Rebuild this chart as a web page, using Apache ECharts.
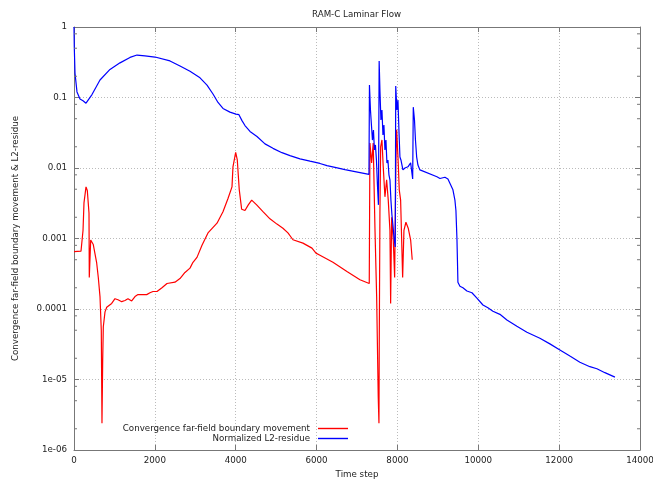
<!DOCTYPE html>
<html>
<head>
<meta charset="utf-8">
<script src="https://cdn.jsdelivr.net/npm/echarts@6/dist/echarts.min.js"></script>
<style>html,body{margin:0;padding:0;background:#fff}#c{width:653px;height:479px}</style>
</head>
<body>
<div id="c"></div>
<script>
// ---- data ----
const titleText = 'RAM-C Laminar Flow';
const xAxisName = 'Time step';
const yAxisName = 'Convergence far-field boundary movement & L2-residue';
const seriesNames = ['Convergence far-field boundary movement', 'Normalized L2-residue'];

const xMin = 0, xMax = 14000, xInterval = 2000;
const yMin = 1e-6, yMax = 1;
const yTickLabels = { '-6': '1e-06', '-5': '1e-05', '-4': '0.0001', '-3': '0.001', '-2': '0.01', '-1': '0.1', '0': '1' };
const yMinorTicks = [2e-6,5e-6,8e-6,2e-5,5e-5,8e-5,2e-4,5e-4,8e-4,2e-3,5e-3,8e-3,2e-2,5e-2,8e-2,0.2,0.5,0.8];

const residueX = [0,7,25,74,148,223,297,346,445,544,643,890,1138,1385,1558,1756,2003,2374,2622,2869,3117,3290,3438,3562,3685,3858,4006,4080,4155,4229,4353,4526,4724,4922,5144,5342,5590,5837,6084,6257,6455,6702,6950,7296,
7308,7333,7357,7382,7407,7431,7456,7481,7506,7530,7548,7567,7592,7617,7642,7666,7691,7716,7740,7765,7790,7815,7839,7864,7889,7914,7946,7958,7988,8013,8037,8062,8087,8136,8186,8260,8327,8377,8392,8422,8446,8476,8507,8557,
8977,9052,9175,9249,9373,9422,9447,9472,9484,9496,9546,9620,9719,9843,9966,10115,10238,10362,10535,10708,10955,11203,11524,11771,12019,12266,12513,12761,12934,13132,13380];
const residueY = [1.0,0.52,0.22,0.12,0.095,0.09,0.083,0.086,0.11,0.14,0.177,0.25,0.31,0.37,0.40,0.39,0.375,0.33,0.28,0.235,0.19,0.15,0.112,0.085,0.07,0.062,0.058,0.057,0.047,0.04,0.033,0.028,0.022,0.019,0.0165,0.015,0.0135,0.0125,0.0116,0.0108,0.0102,0.0095,0.0089,0.0081,
0.150,0.0665,0.0408,0.0249,0.0346,0.018,0.0212,0.013,0.0057,0.003,0.33,0.128,0.048,0.0665,0.0294,0.0408,0.018,0.0249,0.0118,0.013,0.008,0.0068,0.0035,0.00215,0.00155,0.00105,0.00076,0.146,0.0665,0.092,0.0346,0.0143,0.013,0.0094,0.010,0.0104,0.0118,0.007,0.073,0.048,0.0249,0.0143,0.011,0.0094,
0.0075,0.0071,0.0074,0.0070,0.0049,0.0035,0.0025,0.001,0.0005,0.00024,0.00021,0.0002,0.00018,0.00017,0.000143,0.000114,0.000104,0.000093,0.000084,0.000070,0.000057,0.0000468,0.0000385,0.000032,0.0000263,0.0000215,0.0000176,0.0000152,0.0000142,0.0000125,0.0000108];

const movementX = [0,49,173,223,247,297,329,371,378,413,445,477,519,561,601,643,675,692,710,725,767,809,932,1014,1088,1180,1261,1335,1427,1509,1583,1798,1879,1954,2053,2176,2300,2498,2621,2745,2869,2943,3042,3166,3314,3537,3685,3809,3908,3932,3999,4039,4088,4147,4229,4311,4395,4518,4674,4847,5020,5168,5292,5416,5663,5886,5985,6084,6405,6751,7073,7303,
7320,7362,7401,7444,7486,7525,7543,7550,7567,7585,7617,7649,7691,7733,7773,7815,7832,7857,7897,7931,7963,7981,8020,8045,8079,8104,8129,8161,8210,8267,8327,8366];
const movementY = [0.00065,0.00065,0.00066,0.0013,0.0032,0.0054,0.0048,0.0023,0.00028,0.00095,0.001,0.00082,0.0008,0.00045,0.00028,0.00015,0.00005,2.4e-6,1.9e-5,5.6e-5,9.1e-5,1.06e-4,1.2e-4,1.4e-4,1.35e-4,1.27e-4,1.32e-4,1.4e-4,1.3e-4,1.5e-4,1.6e-4,1.6e-4,1.7e-4,1.77e-4,1.77e-4,2.0e-4,2.3e-4,2.4e-4,2.7e-4,3.3e-4,3.8e-4,4.6e-4,5.4e-4,8e-4,1.2e-3,1.65e-3,2.4e-3,3.7e-3,5.4e-3,0.0104,0.0166,0.013,0.0049,0.0026,0.0025,0.003,0.0035,0.003,0.0024,0.0019,0.0016,0.0014,0.0012,0.00096,0.00086,0.00073,0.00062,0.00058,0.00046,0.00034,0.00026,0.00023,
0.0226,0.0118,0.0226,0.0014,0.00015,5.7e-6,2.4e-6,2.8e-5,0.0023,0.02,0.025,0.0104,0.0039,0.0068,0.0035,0.0013,0.00012,0.002,0.00095,0.00028,0.013,0.035,0.0118,0.0049,0.0035,0.001,0.00028,0.0013,0.0017,0.0014,0.00095,0.0005];

// ---- chart ----
const zip = (xs, ys) => xs.map((x, i) => [x, ys[i]]);
const FONT = 'DejaVu Sans';
const FS = 8.7;
const AX = '#777';
const TXT = '#222';

const chart = echarts.init(document.getElementById('c'), null, { renderer: 'canvas' });
chart.setOption({
  animation: false,
  backgroundColor: '#fff',
  textStyle: { fontFamily: FONT },
  title: {
    text: titleText, left: 307, top: 5,
    textStyle: { fontFamily: FONT, fontSize: FS, fontWeight: 'normal', color: TXT }
  },
  grid: { left: 74, right: 13, top: 27, bottom: 29, containLabel: false, outerBoundsMode: 'none', show: false },
  legend: {
    orient: 'vertical', align: 'right', right: 300, top: 419,
    itemWidth: 30, itemHeight: 10, itemGap: 1,
    icon: 'path://M0,0H30V1.4H0Z',
    textStyle: { fontFamily: FONT, fontSize: FS, color: TXT, padding: [0, 3, 0, 0] },
    data: seriesNames
  },
  xAxis: [{
    type: 'value', min: xMin, max: xMax, interval: xInterval,
    name: xAxisName, nameLocation: 'middle', nameGap: 20,
    nameTextStyle: { fontFamily: FONT, fontSize: FS, color: TXT },
    axisLine: { show: true, onZero: false, lineStyle: { color: AX, width: 1 } },
    axisTick: { show: true, inside: true, length: 5, lineStyle: { color: AX } },
    axisLabel: { fontFamily: FONT, fontSize: FS, color: TXT, margin: 6, formatter: v => String(v) },
    splitLine: { show: true, lineStyle: { color: '#bbb', type: [1, 2], width: 1 } }
  }, {
    type: 'value', min: xMin, max: xMax, interval: xInterval, position: 'top',
    axisLine: { show: true, onZero: false, lineStyle: { color: AX, width: 1 } },
    axisTick: { show: true, inside: true, length: 5, lineStyle: { color: AX } },
    axisLabel: { show: false }, splitLine: { show: false }
  }],
  yAxis: [{
    type: 'log', logBase: 10, min: yMin, max: yMax,
    name: yAxisName, nameLocation: 'middle', nameGap: 54, nameRotate: 90,
    nameTextStyle: { fontFamily: FONT, fontSize: FS, color: TXT },
    axisLine: { show: true, onZero: false, lineStyle: { color: AX, width: 1 } },
    axisTick: { show: true, inside: true, length: 5, lineStyle: { color: AX } },
    axisLabel: {
      fontFamily: FONT, fontSize: FS, color: TXT, margin: 7,
      formatter: v => yTickLabels[String(Math.round(Math.log10(v)))] || ''
    },
    splitLine: { show: true, lineStyle: { color: '#bbb', type: [1, 2], width: 1 } }
  }, {
    type: 'log', logBase: 10, min: yMin, max: yMax, position: 'right',
    axisLine: { show: true, onZero: false, lineStyle: { color: AX, width: 1 } },
    axisTick: { show: true, inside: true, length: 5, lineStyle: { color: AX } },
    axisLabel: { show: false }, splitLine: { show: false }
  }],
  series: [{
    name: seriesNames[0], type: 'line', xAxisIndex: 0, yAxisIndex: 0,
    data: zip(movementX, movementY), showSymbol: false, symbol: 'none',
    lineStyle: { color: '#ff0000', width: 1.2 }, itemStyle: { color: '#ff0000' }, z: 3
  }, {
    name: seriesNames[1], type: 'line', xAxisIndex: 0, yAxisIndex: 0,
    data: zip(residueX, residueY), showSymbol: false, symbol: 'none',
    lineStyle: { color: '#0000ff', width: 1.2 }, itemStyle: { color: '#0000ff' }, z: 4
  }, {
    type: 'custom', xAxisIndex: 0, yAxisIndex: 0, silent: true, clip: false, z: 5,
    data: yMinorTicks.map(v => [xMin, v]),
    encode: { x: 0, y: 1 },
    renderItem: (params, api) => {
      const v = api.value(1);
      const pL = api.coord([xMin, v]);
      const pR = api.coord([xMax, v]);
      return {
        type: 'group', children: [
          { type: 'line', shape: { x1: pL[0], y1: pL[1], x2: pL[0] + 3, y2: pL[1] }, style: { stroke: AX, lineWidth: 1 } },
          { type: 'line', shape: { x1: pR[0], y1: pR[1], x2: pR[0] - 3, y2: pR[1] }, style: { stroke: AX, lineWidth: 1 } }
        ]
      };
    }
  }]
});
</script>
</body>
</html>
